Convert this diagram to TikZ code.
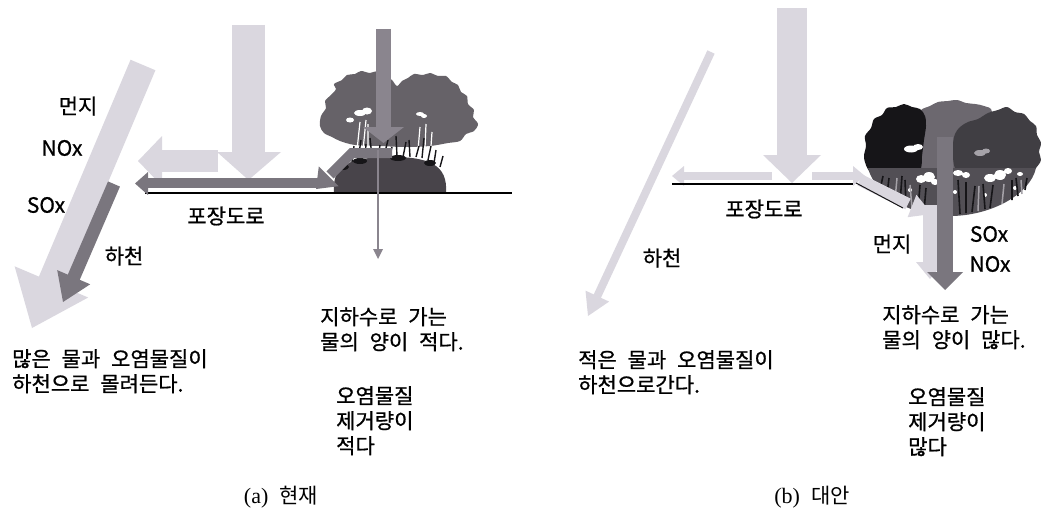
\documentclass[tikz,border=0pt]{standalone}
\usepackage{fontspec}
\usepackage{tikz}
\usetikzlibrary{positioning}
\newfontfamily\kr{Noto Sans CJK KR}[WordSpace=2.3, FakeBold=0.8]
\newfontfamily\krcap{Noto Sans CJK KR}
\newfontfamily\capserif{Liberation Serif}
\definecolor{LightFlow}{RGB}{218,215,223}
\definecolor{DarkFlow}{RGB}{122,118,126}
\definecolor{MidFlow}{RGB}{138,133,142}
\definecolor{Canopy}{RGB}{102,98,104}
\definecolor{Mound}{RGB}{72,68,74}
\definecolor{TreeBlack}{RGB}{22,21,24}
\definecolor{TreeDark}{RGB}{64,62,67}
\definecolor{TreeMid}{RGB}{108,104,111}
\definecolor{Grass}{RGB}{82,79,85}
\definecolor{GrassLight}{RGB}{165,162,168}

\begin{document}
\begin{tikzpicture}[x=1pt, y=-1pt,
    txt/.style={font=\kr\fontsize{21}{25}\selectfont, inner sep=0pt},
    blk/.style={txt, align=left, anchor=north west},
    captxt/.style={font=\fontsize{22}{26}\selectfont, inner sep=0pt}]
    \useasboundingbox (0,0) rectangle (1041,519);

    % (a) paved road
    \begin{scope}
      % runoff into the river
      \draw[LightFlow, line width=27pt] (143,65) -- (50,285);
      \fill[LightFlow] (14.6,266.3) -- (88.2,297.5) -- (32,328) -- cycle;
      \draw[DarkFlow, line width=13pt] (114,184) -- (73,279);
      \fill[DarkFlow] (57.2,270.1) -- (90.2,284.3) -- (63,302) -- cycle;

      % rain on the road
      \draw[LightFlow, line width=33pt] (248.5,25) -- (248.5,154);
      \fill[LightFlow] (217,152) -- (281,152) -- (248.5,180) -- cycle;
      \draw[LightFlow, line width=22pt] (218,161) -- (160,161);
      \fill[LightFlow] (162,136) -- (162,186) -- (138,161) -- cycle;

      % tree
      \fill[Canopy] plot[smooth cycle, tension=0.55] coordinates {(320,126) (321,116)
        (326,108) (325,101) (331,95) (336,89) (334,84) (342,80) (347,75) (355,74)
        (361,71) (370,73) (378,71) (386,76) (392,80) (397,86) (402,81) (408,78)
        (414,74) (423,75) (430,73) (438,76) (446,76) (452,82) (458,85) (461,92)
        (467,96) (468,104) (474,110) (473,117) (478,124) (474,131) (466,134)
        (460,141) (448,143) (430,146) (405,147) (380,146) (355,145) (340,141)
        (332,137) (324,133)};
      \fill[Mound] (334,193) .. controls (332,168) and (345,158) .. (385,157)
        .. controls (430,156) and (448,165) .. (446,193) -- cycle;
      \draw[white, line width=1.2pt] (357,150) -- (360,122) (363,150) -- (366,120)
        (368,148) -- (368,124) (418,150) -- (420,127) (425,148) -- (426,124)
        (431,146) -- (432,132);
      \fill[white] (360,113) ellipse (6 and 3) (367,111) ellipse (5 and 3.5)
        (350,120) ellipse (4 and 2.5) (420,114) ellipse (4 and 2) (424,116) ellipse (3 and 2);
      \draw[TreeBlack, line width=1.4pt] (340,170) -- (343,158) (346,165) -- (350,150)
        (352,162) -- (354,146) (358,160) -- (361,140) (365,158) -- (366,144)
        (372,157) -- (370,138) (378,157) -- (380,145) (384,156) -- (388,140)
        (390,156) -- (392,147) (397,156) -- (396,136) (403,157) -- (406,142)
        (410,157) -- (409,140) (416,157) -- (419,146) (422,158) -- (424,138)
        (428,160) -- (431,146) (434,163) -- (436,150) (440,167) -- (443,156);
      \fill[TreeBlack] (343,167) ellipse (6 and 3) (360,161) ellipse (7 and 3)
        (398,158) ellipse (8 and 3) (430,163) ellipse (6 and 3);

      % ground and water paths
      \draw[black, line width=1.5pt] (145,193) -- (512,193);
      \draw[DarkFlow, line width=10pt] (320,183) -- (146,183);
      \fill[DarkFlow] (148,172) -- (148,195) -- (135,183.5) -- cycle;
      \draw[DarkFlow, line width=10pt, line join=miter] (392,153) -- (352,153) -- (330,175);
      \fill[DarkFlow] (338.6,186.2) -- (318.8,166.4) -- (316,189) -- cycle;
      \draw[MidFlow, line width=15pt] (383.5,29) -- (383.5,129);
      \fill[MidFlow] (363,127) -- (404,127) -- (383.5,143) -- cycle;
      \draw[MidFlow, line width=2.5pt] (378,150) -- (378,250);
      \fill[MidFlow] (373,249) -- (383,249) -- (378,259) -- cycle;

      \node[txt] (dustA) at (78,106) {먼지};
      \node[txt] (noxA) at (62,148) {NOx};
      \node[txt] (soxA) at (46,205) {SOx};
      \node[txt] (riverA) at (124,256) {하천};
      \node[txt] (roadA) at (226,216) {포장도로};
      \node[blk] (runoffA) at (12,349) {많은 물과 오염물질이\\하천으로 몰려든다.};
      \node[blk] (groundA) at (320,307) {지하수로 가는\\물의 양이 적다.};
      \node[blk] (removeA) at (336,386) {오염물질\\제거량이\\적다};
      \node[captxt] (capA) at (281,497) {{\capserif (a)}\hspace{0.5em}{\krcap\fontsize{21}{26}\selectfont 현재}};
    \end{scope}

    % (b) alternative
    \begin{scope}
      % small runoff into the river
      \draw[LightFlow, line width=8pt] (711,52) -- (596,299);
      \fill[LightFlow] (609.1,301.6) -- (585.5,290.6) -- (588,316) -- cycle;

      % rain on the road
      \draw[LightFlow, line width=30pt] (792,8) -- (792,157);
      \fill[LightFlow] (763,155) -- (821,155) -- (792,183) -- cycle;
      \draw[LightFlow, line width=8pt] (772,176) -- (682,176);
      \fill[LightFlow] (684,166) -- (684,186) -- (672,176) -- cycle;
      \draw[LightFlow, line width=8pt] (812,176) -- (855,176);
      \fill[LightFlow] (853,166) -- (853,186) -- (865,176) -- cycle;
      \draw[black, line width=1.5pt] (672,184) -- (853,184);

      % tree
      \fill[TreeMid] plot[smooth cycle, tension=0.55] coordinates {(915,120) (921,110)
        (930,106) (938,102) (948,101) (957,100) (966,103) (975,104) (984,106)
        (992,112) (985,140) (970,178) (930,180) (915,160)};
      \fill[TreeBlack] plot[smooth cycle, tension=0.55] coordinates {(864,158) (866,146)
        (865,136) (871,128) (874,119) (882,115) (887,108) (896,107) (904,104)
        (912,107) (920,109) (925,116) (926,126) (924,140) (922,156) (920,170)
        (905,178) (885,178) (870,172)};
      \fill[TreeDark] plot[smooth cycle, tension=0.55] coordinates {(953,145) (955,134)
        (960,127) (968,122) (978,119) (988,113) (998,110) (1007,107) (1015,112)
        (1024,114) (1030,121) (1036,126) (1037,135) (1041,143) (1039,152)
        (1041,160) (1036,168) (1028,175) (1010,182) (985,184) (962,180) (954,165)};
      \fill[Grass] (868,168) -- (1036,168) .. controls (1030,195) and (990,216) .. (950,216)
        .. controls (910,216) and (875,195) .. (868,168) -- cycle;
      \fill[white] (921,179) ellipse (5 and 4) (929,177) ellipse (6 and 5) (935,182) ellipse (4 and 3)
        (958,173) ellipse (5 and 3) (966,175) ellipse (4 and 3)
        (990,178) ellipse (6 and 4) (1000,175) ellipse (6 and 5) (1008,171) ellipse (4 and 3)
        (1020,174) ellipse (3 and 2) (955,192) circle (2) (910,190) circle (2)
        (985,195) circle (2) (1015,188) circle (2);
      \draw[GrassLight, line width=1.5pt] (895,200) -- (897,178) (912,208) -- (910,185)
        (940,212) -- (941,188) (978,211) -- (979,186) (1002,204) -- (1004,184)
        (1022,194) -- (1021,180);
      \draw[TreeBlack, line width=1.6pt] (900,203) -- (902,176) (906,205) -- (905,180)
        (918,210) -- (920,185) (924,211) -- (926,188) (960,214) -- (958,180)
        (966,213) -- (966,182) (972,212) -- (975,186) (985,209) -- (983,184)
        (990,208) -- (993,185) (1012,200) -- (1012,180) (1018,196) -- (1016,178)
        (1025,190) -- (1027,178) (880,190) -- (883,176) (887,195) -- (889,178);
      \fill[white] (911,149) ellipse (7 and 3.5) (918,147) ellipse (5 and 3);
      \fill[GrassLight] (980,153) ellipse (6 and 3) (986,151) ellipse (4 and 2.5);

      % water into the soil
      \draw[LightFlow, line width=12pt] (860,180) -- (908,204);
      \fill[LightFlow] (907.6,217.2) -- (916.4,194.8) -- (932,214) -- cycle;
      \draw[TreeBlack, line width=1pt] (856,183) -- (903,208);
      \draw[LightFlow, line width=14pt] (930,205) -- (930,264);
      \fill[LightFlow] (916,262) -- (944,262) -- (930,279) -- cycle;
      \draw[DarkFlow, line width=16pt] (945,137) -- (945,274);
      \fill[DarkFlow] (927,272) -- (963,272) -- (945,290) -- cycle;

      \node[txt] (roadB) at (764,209) {포장도로};
      \node[txt] (riverB) at (662,258) {하천};
      \node[txt] (dustB) at (892,244) {먼지};
      \node[txt] (soxB) at (989,234) {SOx};
      \node[txt] (noxB) at (990,264) {NOx};
      \node[blk] (runoffB) at (578,350) {적은 물과 오염물질이\\하천으로간다.};
      \node[blk] (groundB) at (882,305) {지하수로 가는\\물의 양이 많다.};
      \node[blk] (removeB) at (908,387) {오염물질\\제거량이\\많다};
      \node[captxt] (capB) at (812,497) {{\capserif (b)}\hspace{0.5em}{\krcap\fontsize{21}{26}\selectfont 대안}};
    \end{scope}
\end{tikzpicture}
\end{document}
